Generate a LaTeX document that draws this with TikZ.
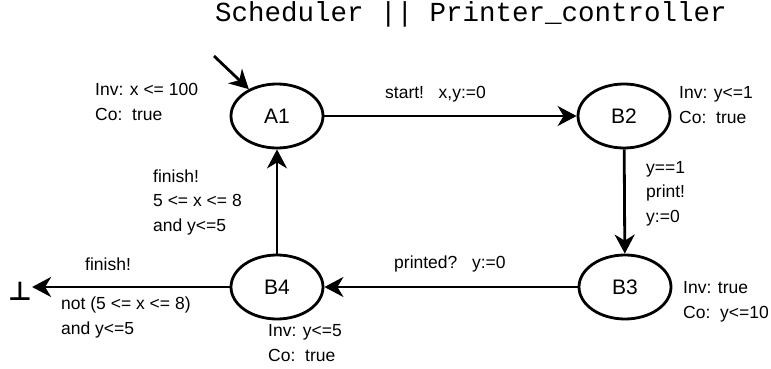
\documentclass[tikz,border=0pt]{standalone}
\usepackage{fontspec}
\setmainfont{Liberation Sans}
\newfontfamily\monofont{Liberation Mono}
\newfontfamily\symfont{DejaVu Sans}
\usetikzlibrary{shapes.geometric,arrows.meta}

\tikzset{
  state/.style={ellipse,draw,line width=2.8pt,minimum width=92pt,minimum height=64pt,inner sep=0pt,font=\fontsize{21}{24}\selectfont},
  trans/.style={line width=2.8pt,-{Stealth[length=19pt,width=20pt,inset=6pt]}},
  lbl/.style={inner sep=0pt,anchor=base west,align=left,font=\fontsize{17.5}{24.5}\selectfont}
}

\begin{document}
\begin{tikzpicture}[x=1pt,y=-1pt]
\useasboundingbox (0,0) rectangle (771,369);
\node[inner sep=0pt,anchor=base west,font=\monofont\fontsize{27.5}{30}\selectfont] (title) at (215,22) {Scheduler || Printer\_controller};

% states
\node[state] (a1) at (277,116) {A1};
\node[state] (b2) at (624,116) {B2};
\node[state] (b3) at (625,287) {B3};
\node[state] (b4) at (277,287) {B4};
\node[inner sep=0pt,font=\symfont\bfseries\fontsize{26}{30}\selectfont] (bot) at (20,291) {⊥};
\coordinate (init) at (214,56);

% transitions
\draw[trans] (init) -- (a1);
\draw[trans] (a1) -- (b2);
\draw[trans] (b2) -- (b3);
\draw[trans] (b3) -- (b4);
\draw[trans] (b4) -- (a1);
\draw[trans] (b4) -- (b4 -| bot.east);

% invariants and guards (anchored at the last line)
\node[lbl] (invA1) at (95,120) {Inv: x <= 100\\Co:~~true};
\node[lbl] (invB2) at (679,123) {Inv: y<=1\\Co:~~true};
\node[lbl] (invB3) at (683,318) {Inv: true\\Co:~~y<=10};
\node[lbl] (invB4) at (268,361) {Inv: y<=5\\Co:~~true};
\node[lbl] (gStart) at (385,99) {start!~~~x,y:=0};
\node[lbl] (gPrint) at (646,222) {y==1\\print!\\y:=0};
\node[lbl] (gPrinted) at (394,268) {printed?~~~y:=0};
\node[lbl] (gFinish) at (153,231) {finish!\\5 <= x <= 8\\and y<=5};
\node[lbl] (gFail) at (85,270) {finish!};
\node[lbl] (gNot) at (61,334) {not (5 <= x <= 8)\\and y<=5};
\end{tikzpicture}
\end{document}
